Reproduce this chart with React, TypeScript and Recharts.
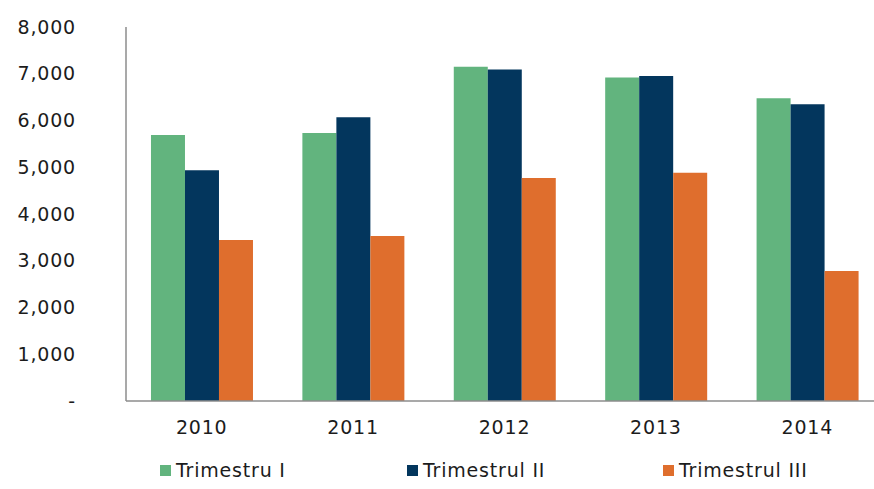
import React from "react";
import { BarChart, Bar, XAxis, YAxis, Legend } from "recharts";

const years = ["2010", "2011", "2012", "2013", "2014"];
const trimestruI = [5690, 5730, 7150, 6920, 6475];
const trimestrulII = [4935, 6070, 7090, 6950, 6345];
const trimestrulIII = [3445, 3530, 4770, 4880, 2780];
const yTicks = [0, 1000, 2000, 3000, 4000, 5000, 6000, 7000, 8000];

const data = years.map((y, i) => ({
  year: y,
  t1: trimestruI[i],
  t2: trimestrulII[i],
  t3: trimestrulIII[i],
}));

const FONT = "'DejaVu Sans', sans-serif";
const TEXT = "#1c1c1c";
const AXIS = "#8c8c8c";

const fmt = (v: number) => (v === 0 ? "-" : v.toLocaleString("en-US"));

const legendLefts = [160, 407, 663];

function LegendContent(props: any) {
  const items = props.payload || [];
  return (
    <div style={{ position: "relative", width: 874, height: 30 }}>
      {items.map((it: any, i: number) => (
        <div
          key={it.value}
          style={{
            position: "absolute",
            left: legendLefts[i],
            top: 0,
            display: "flex",
            alignItems: "center",
            fontFamily: FONT,
            fontSize: 19,
            color: TEXT,
            letterSpacing: 0.8,
            whiteSpace: "nowrap",
          }}
        >
          <span style={{ width: 11, height: 11, background: it.color, marginRight: 5, display: "inline-block" }} />
          {it.value}
        </div>
      ))}
    </div>
  );
}

export default function App() {
  return (
    <div style={{ position: "absolute", left: 0, top: 0, width: 874, height: 489, background: "#fff", overflow: "hidden" }}>
      <BarChart
        width={874}
        height={489}
        data={data}
        margin={{ top: 27, right: -9, left: 0, bottom: 28 }}
        barCategoryGap="16.5%"
        barGap={0}
      >
        <XAxis
          dataKey="year"
          axisLine={{ stroke: AXIS, strokeWidth: 1.5 }}
          tickLine={false}
          tickSize={0}
          tickMargin={20}
          height={30}
          tick={{ fill: TEXT, fontSize: 19, fontFamily: FONT, letterSpacing: 0.8 }}
        />
        <YAxis
          domain={[0, 8000]}
          ticks={yTicks}
          interval={0}
          width={126}
          axisLine={{ stroke: AXIS, strokeWidth: 1.5 }}
          tickLine={false}
          tickSize={0}
          tickMargin={50}
          tickFormatter={fmt}
          tick={{ fill: TEXT, fontSize: 19, fontFamily: FONT, letterSpacing: 0.8 }}
        />
        <Legend
          verticalAlign="bottom"
          content={<LegendContent />}
          wrapperStyle={{ left: 0, top: 459, width: 874 }}
        />
        <Bar dataKey="t1" name="Trimestru I" fill="#62b47e" isAnimationActive={false} />
        <Bar dataKey="t2" name="Trimestrul II" fill="#03365d" isAnimationActive={false} />
        <Bar dataKey="t3" name="Trimestrul III" fill="#df6e2d" isAnimationActive={false} />
      </BarChart>
    </div>
  );
}
